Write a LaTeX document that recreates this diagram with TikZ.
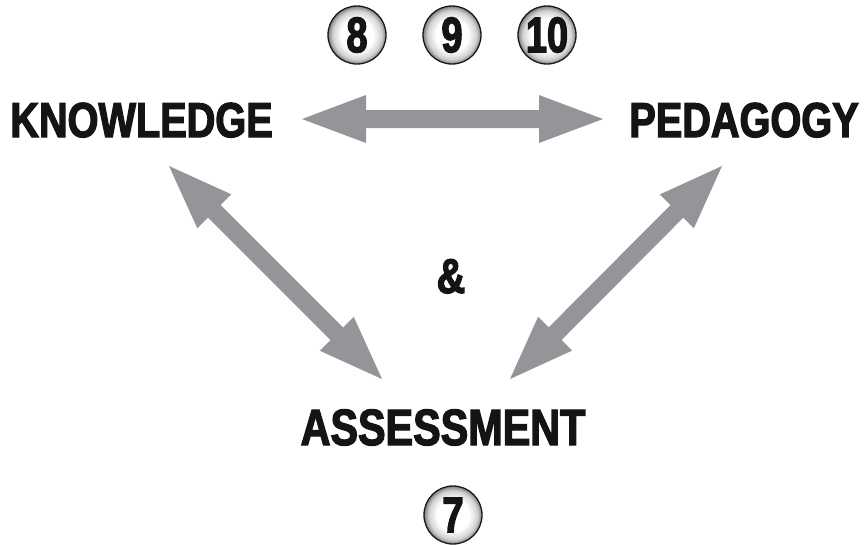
\documentclass[tikz,border=0pt]{standalone}
\usepackage{fontspec}
\usetikzlibrary{calc}
\newfontfamily\labfont{Liberation Sans Bold}[FakeStretch=0.81,FakeBold=2.5]
\newfontfamily\digfont{Liberation Sans Bold}[FakeStretch=0.76,FakeBold=2.5]
\definecolor{arrowgray}{HTML}{939598}
\pgfdeclareradialshading{ballshade}{\pgfpoint{0bp}{0bp}}{color(0bp)=(white); color(14bp)=(white); color(21bp)=(black!18); color(25bp)=(black!50); color(50bp)=(black!50)}
\newcommand\dblarrow[2]{%
  \fill[arrowgray] (#1)
    -- ($(#1)!64pt!(#2)!24pt!90:(#2)$)
    -- ($(#1)!64pt!(#2)!9pt!90:(#2)$)
    -- ($(#2)!64pt!(#1)!9pt!-90:(#1)$)
    -- ($(#2)!64pt!(#1)!24pt!-90:(#1)$)
    -- (#2)
    -- ($(#2)!64pt!(#1)!24pt!90:(#1)$)
    -- ($(#2)!64pt!(#1)!9pt!90:(#1)$)
    -- ($(#1)!64pt!(#2)!9pt!-90:(#2)$)
    -- ($(#1)!64pt!(#2)!24pt!-90:(#2)$)
    -- cycle;}
\tikzset{
  label text/.style={inner sep=0pt, anchor=base, font=\labfont\fontsize{49}{49}\selectfont, text=black!92},
  ball/.style={circle, draw=black!90, line width=1.3pt, minimum size=58pt, inner sep=0pt,
    shading=ballshade, font=\digfont\fontsize{50}{50}\selectfont, text=black!92}
}
\begin{document}
\begin{tikzpicture}[x=1pt,y=-1pt]
\useasboundingbox (0,0) rectangle (864,544);
% labels
\node[label text] (know) at (141.5,137) {KNOWLEDGE};
\node[label text] (peda) at (744,137) {PEDAGOGY};
\node[label text, font=\labfont\fontsize{51}{51}\selectfont] (asse) at (443,445) {ASSESSMENT};
\node[label text] (amp) at (451,293) {\&};
% numbered balls
\node[ball] (n8) at (357,35) {8};
\node[ball] (n9) at (452,35) {9};
\node[ball] (n10) at (547,35) {10};
\node[ball] (n7) at (453,515) {7};
% arrow end points
\coordinate (kr) at (302,119);
\coordinate (pl) at (603,119);
\coordinate (kd) at (169,166);
\coordinate (al) at (382,379);
\coordinate (pd) at (722,166);
\coordinate (ar) at (510,379);
\dblarrow{kr}{pl}
\dblarrow{kd}{al}
\dblarrow{pd}{ar}
\end{tikzpicture}
\end{document}
